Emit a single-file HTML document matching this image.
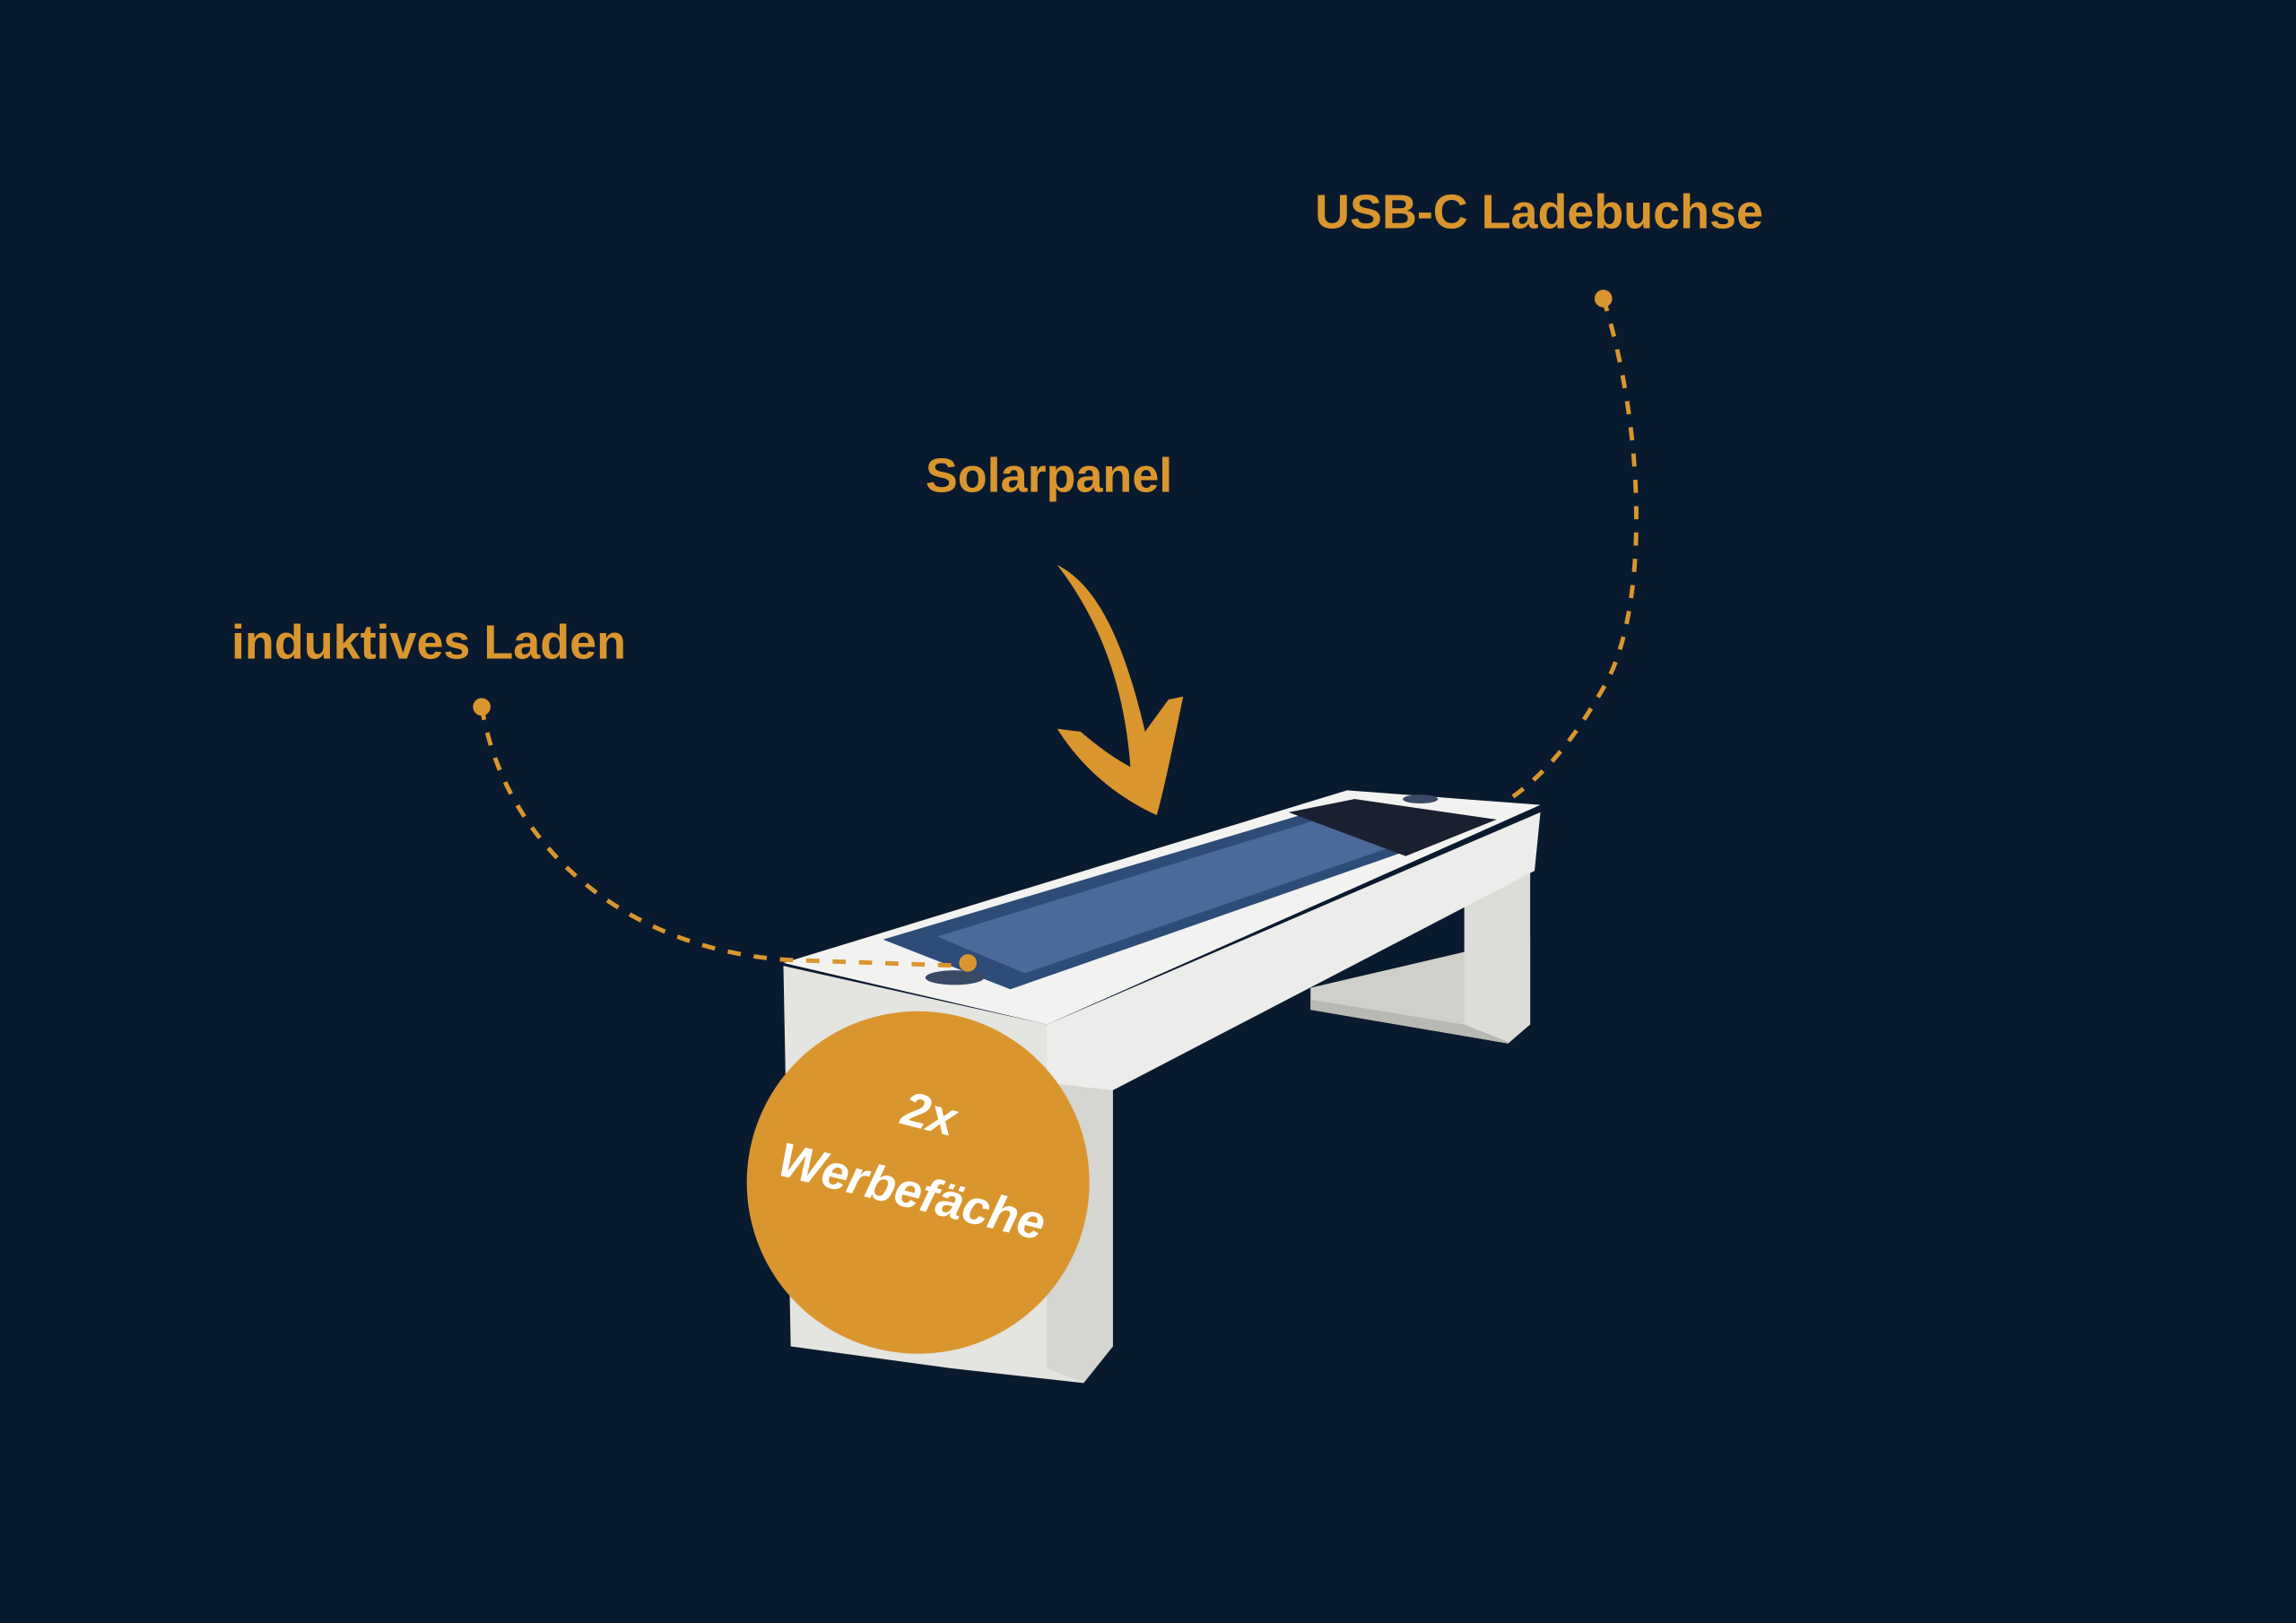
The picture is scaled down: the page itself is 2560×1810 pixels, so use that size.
<!DOCTYPE html>
<html><head><meta charset="utf-8"><style>
html,body{margin:0;padding:0;background:#0a1a2e;}
svg{display:block;}
</style></head><body>
<svg width="2560" height="1810" viewBox="0 0 1568 1109" preserveAspectRatio="none" xmlns="http://www.w3.org/2000/svg">
<rect width="1568" height="1109" fill="#0a1a2e"/>
<g font-family="Liberation Sans, sans-serif" font-weight="bold" fill="#d9962e" font-size="33">
<text x="898" y="156">USB-C Ladebuchse</text>
<text x="632" y="336">Solarpanel</text>
<text x="158" y="450">induktives Laden</text>
</g>
<g>
<polygon points="895,675 1045,640 1045,700 1030,713 895,690" fill="#cfcfcc"/>
<polygon points="895,690 1030,713 1030,705 895,683" fill="#b8b8b4"/>
<polygon points="1000,600 1045,590 1045,700 1030,712 1000,700" fill="#dcdcd8"/>
<polygon points="535,660 715,700 760,745 760,920 740,945 650,935 540,920" fill="#e4e4e0"/>
<polygon points="715,700 1052,555 1048,595 760,745 715,740" fill="#ececea"/>
<polygon points="715,740 760,745 760,920 740,945 715,935" fill="#d5d5d1"/>
<polygon points="535,658 920,540 1052,550 715,700" fill="#f2f2f0"/>
<polygon points="603,642 925,546 1022,560 690,676" fill="#2d4c78"/>
<polygon points="640,640 900,560 990,565 700,665" fill="#5878a8" opacity="0.7"/>
<polygon points="880,555 925,546 1022,560 960,585" fill="#1a2030"/>
<ellipse cx="652" cy="668" rx="20" ry="5" fill="#3a4a66"/>
<ellipse cx="970" cy="546" rx="12" ry="3" fill="#3a4a66"/>
</g>
<g fill="none" stroke="#d9962e" stroke-width="3" stroke-dasharray="9,9">
<path d="M1095,204 C1125,300 1125,420 1095,470 C1075,505 1055,530 1028,548"/>
<path d="M329,483 C345,580 430,650 540,656 L660,660"/>
</g>
<circle cx="1095" cy="204" r="6" fill="#d9962e"/>
<circle cx="329" cy="483" r="6" fill="#d9962e"/>
<circle cx="661" cy="658" r="6" fill="#d9962e"/>
<path d="M722,386 C750,400 768,440 782,500 L798,478 L808,476 C802,505 796,535 790,557 C770,548 742,530 722,498 L738,500 C752,512 764,520 772,524 C768,470 752,425 722,386 Z" fill="#d9962e"/>
<circle cx="627" cy="808" r="117" fill="#d9962e"/>
<g font-family="Liberation Sans, sans-serif" font-weight="bold" font-style="italic" fill="#fff" font-size="33" text-anchor="middle">
<text transform="translate(632,772) rotate(14)">2x</text>
<text transform="translate(620,825) rotate(14)">Werbefäche</text>
</g>
</svg>
</body></html>
